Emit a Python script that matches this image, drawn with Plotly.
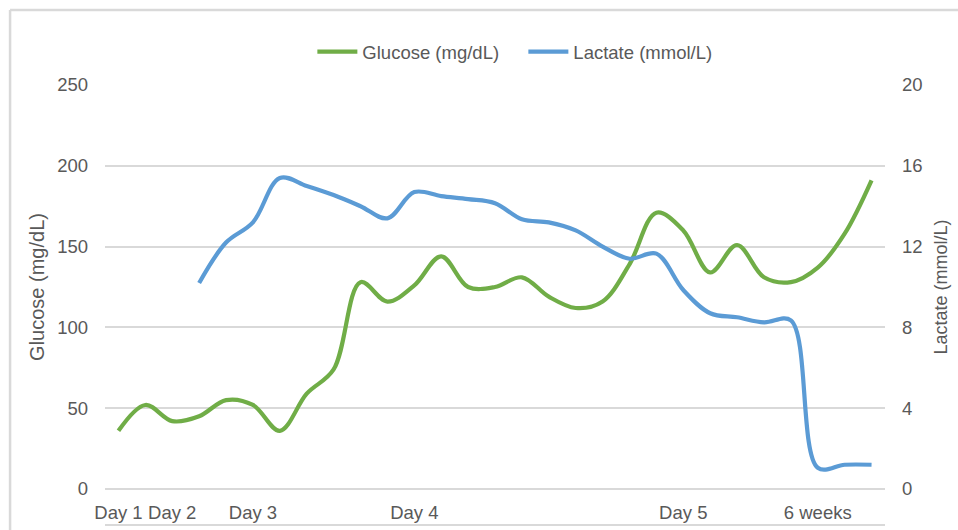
import plotly.graph_objects as go

# ---- data ----
time_index = list(range(29))
tick_positions = [0, 2, 5, 11, 21, 26]
tick_labels = ["Day 1", "Day 2", "Day 3", "Day 4", "Day 5", "6 weeks"]

glucose = [36, 52, 42, 45, 55, 52, 36, 59, 74, 128, 116, 126, 144, 125, 125,
           131, 119, 112, 116, 139, 171, 160, 134, 151, 131, 128, 137, 158, 191]

lactate = [None, None, None, 10.2, 12.2, 13.2, 15.4, 15.0, 14.55, 14.0, 13.4,
           14.7, 14.5, 14.35, 14.15, 13.35, 13.2, 12.8, 12.0, 11.4, 11.65, 9.85,
           8.7, 8.5, 8.25, 8.35, 1.05, 1.2, 1.2]

GREEN = "#70AD47"
BLUE = "#5B9BD5"
TXT = "#595959"
GRID = "#d9d9d9"
FONT = "Liberation Sans, Arial, sans-serif"
FS = 18.5

fig = go.Figure()
fig.add_trace(go.Scatter(
    x=time_index, y=glucose, name="Glucose (mg/dL)", mode="lines",
    line=dict(color=GREEN, width=4.2, shape="spline", smoothing=1.0),
    yaxis="y"))
fig.add_trace(go.Scatter(
    x=time_index, y=lactate, name="Lactate (mmol/L)", mode="lines",
    line=dict(color=BLUE, width=4.2, shape="spline", smoothing=1.0),
    yaxis="y2", connectgaps=False))

W, H = 958, 530
L, R, T, B = 104.5, 73, 85, 41
pw, ph = W - L - R, H - T - B

def px_x(x):
    return (x - L) / pw

def px_y(y):
    return (H - B - y) / ph

fig.update_layout(
    width=W, height=H,
    margin=dict(l=L, r=R, t=T, b=B, pad=0, autoexpand=False),
    paper_bgcolor="white", plot_bgcolor="white",
    font=dict(family=FONT, size=FS, color=TXT),
    showlegend=True,
    legend=dict(orientation="h", x=px_x(312), xanchor="left",
                y=px_y(52), yanchor="middle", font=dict(size=FS, color=TXT),
                bgcolor="rgba(0,0,0,0)", itemwidth=40,
                entrywidth=156, entrywidthmode="pixels"),
    xaxis=dict(range=[-0.5, 28.5], tickmode="array", tickvals=tick_positions,
               ticktext=tick_labels, showgrid=False, zeroline=False,
               showline=False, ticks="", ticklabelstandoff=10, automargin=False,
               tickfont=dict(size=FS, color=TXT)),
    yaxis=dict(range=[0, 250], dtick=50, showgrid=True, gridcolor=GRID,
               gridwidth=2, zeroline=True, zerolinecolor=GRID, zerolinewidth=2,
               showline=False, ticks="", ticklabelstandoff=16, automargin=False,
               tickfont=dict(size=FS, color=TXT),
               title=dict(text="Glucose (mg/dL)", font=dict(size=20, color=TXT),
                          standoff=7)),
    yaxis2=dict(range=[0, 20], dtick=4, overlaying="y", side="right",
                showgrid=False, zeroline=False, showline=False, ticks="",
                ticklabelstandoff=16, automargin=False,
                tickfont=dict(size=FS, color=TXT),
                title=dict(text="Lactate (mmol/L)", font=dict(size=18, color=TXT),
                           standoff=12)),
    shapes=[
        # outer chart frame (top and left edges visible)
        dict(type="line", xref="paper", yref="paper", x0=px_x(9.5), x1=px_x(958),
             y0=px_y(10), y1=px_y(10), line=dict(color=GRID, width=2.5)),
        dict(type="line", xref="paper", yref="paper", x0=px_x(9.5), x1=px_x(9.5),
             y0=px_y(10), y1=px_y(530), line=dict(color=GRID, width=2.5)),
        # line under category labels
        dict(type="line", xref="paper", yref="paper", x0=0, x1=1,
             y0=px_y(525), y1=px_y(525), line=dict(color=GRID, width=2)),
    ],
)

fig.write_html("out.html", config={"displayModeBar": False},
               post_script="document.body.style.margin='0';"
                           "document.body.style.overflow='hidden';")
